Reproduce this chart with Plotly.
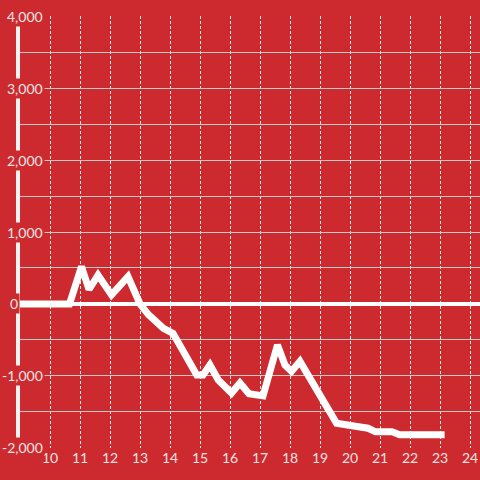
import plotly.graph_objects as go

hours = [9.0, 10.65, 11.05, 11.3, 11.6, 12.05, 12.6, 12.85, 13.0, 13.28, 13.78, 14.1,
         14.5, 14.89, 15.1, 15.33, 15.61, 16.05, 16.33, 16.63, 17.1, 17.58, 17.83, 18.05,
         18.33, 18.7, 19.05, 19.3, 19.55, 20.28, 20.6, 20.85, 21.4, 21.65, 23.15]
values = [0, 0, 520, 200, 400, 125, 380, 150, 0, -150, -340, -410,
          -730, -990, -990, -850, -1060, -1240, -1100, -1250, -1280, -570, -850, -940,
          -800, -1060, -1330, -1500, -1660, -1710, -1730, -1780, -1780, -1820, -1820]

x_ticks = list(range(10, 25))
y_label_vals = [4000, 3000, 2000, 1000, 0, -1000, -2000]
y_label_text = ["4,000", "3,000", "2,000", "1,000", "0", "-1,000", "-2,000"]

BG = "#cc2a2f"
TXT = "#f3e4e4"
FONT = "Lato"

fig = go.Figure()
fig.add_trace(go.Scatter(x=hours, y=values, mode="lines",
                         line=dict(color="white", width=7), hoverinfo="skip"))

for v, t in zip(y_label_vals, y_label_text):
    if t == "0":
        ax, anchor = -0.026, "left"
    else:
        ax, anchor = 0.054, "right"
    fig.add_annotation(x=ax, xref="paper", y=v, yref="y", text=t, showarrow=False,
                       xanchor=anchor, yanchor="middle", bgcolor=BG, borderpad=1,
                       font=dict(family=FONT, size=14, color=TXT))

fig.update_layout(
    width=480, height=480,
    margin=dict(l=20, r=0, t=16, b=32),
    paper_bgcolor=BG, plot_bgcolor=BG,
    showlegend=False,
    xaxis=dict(range=[9, 24.33], tickvals=x_ticks, showgrid=True,
               gridcolor="#ececec", griddash="3px,2px", gridwidth=1,
               zeroline=False, showline=False, ticks="",
               tickfont=dict(family=FONT, size=14, color=TXT)),
    yaxis=dict(range=[-2005, 4005], dtick=500, showgrid=True, gridcolor="#c8c8c8",
               gridwidth=1, showticklabels=False, ticks="",
               zeroline=True, zerolinecolor="white", zerolinewidth=4,
               showline=True, linecolor="#f2f2f2", linewidth=4),
)

fig.write_html("out.html", config={"displayModeBar": False},
               post_script="document.body.style.margin='0';")
